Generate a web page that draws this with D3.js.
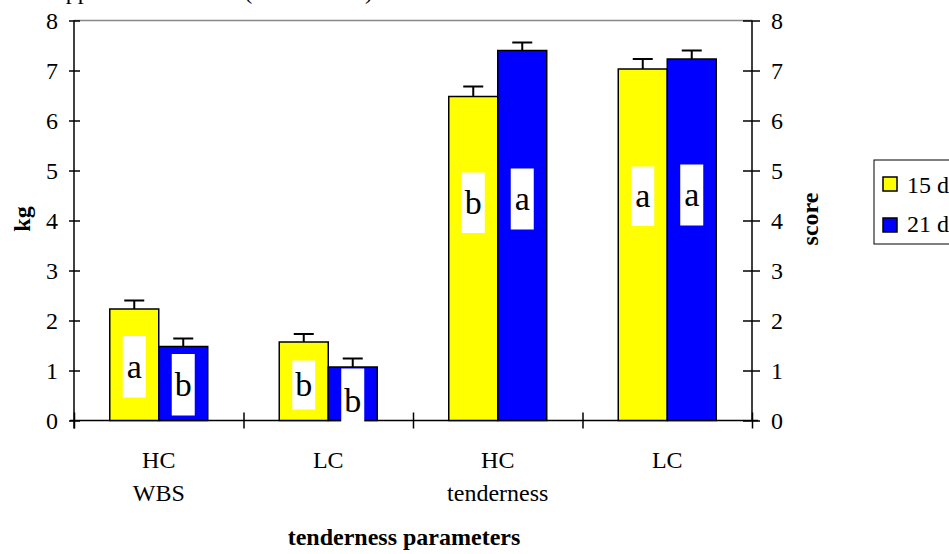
<!DOCTYPE html>
<html>
<head>
<meta charset="utf-8">
<script src="https://cdn.jsdelivr.net/npm/d3@7"></script>
<style>
  body { margin: 0; background: #fff; }
  svg { display: block; font-family: "Liberation Serif", "Times New Roman", serif; }
</style>
</head>
<body>
<svg></svg>
<script>
// data
const catTop = ["HC", "LC", "HC", "LC"];
const catBottom = ["WBS", "", "tenderness", ""];
const series = ["15 d", "21 d"];
const colors = ["#ffff00", "#0000ff"];
const values15 = [2.23, 1.57, 6.48, 7.03];
const values21 = [1.48, 1.07, 7.40, 7.23];
const err15 = [0.17, 0.16, 0.20, 0.20];
const err21 = [0.16, 0.17, 0.16, 0.17];
const letters15 = ["a", "b", "b", "a"];
const letters21 = ["b", "b", "a", "a"];
// white label boxes, top / bottom in axis units
const boxTop15 = [1.69, 1.20, 4.96, 5.08];
const boxBot15 = [0.46, 0.22, 3.75, 3.89];
const boxTop21 = [1.33, 1.04, 5.04, 5.12];
const boxBot21 = [0.10, -0.24, 3.82, 3.90];
const yTicks = [0, 1, 2, 3, 4, 5, 6, 7, 8];

let w = 949, h = 554;
var svg = d3.select("svg").attr("width", w).attr("height", h);

var x = d3.scaleBand().domain(d3.range(catTop.length)).range([74, 752]).padding(0);
var xs = d3.scaleBand().domain(series).range([0, x.bandwidth()]).paddingInner(0).paddingOuter(0.73);
var y = d3.scaleLinear().domain([0, 8]).range([420.5, 20.5]);
var xEdge = d3.scaleLinear().domain([0, catTop.length]).range([74, 752]);

// rows: one per bar
var rows = [];
catTop.forEach((c, i) => {
    rows.push({i: i, s: series[0], v: values15[i], e: err15[i], l: letters15[i], bt: boxTop15[i], bb: boxBot15[i], c: colors[0]});
    rows.push({i: i, s: series[1], v: values21[i], e: err21[i], l: letters21[i], bt: boxTop21[i], bb: boxBot21[i], c: colors[1]});
});

// top frame line
svg.append("line")
    .attr("x1", 74).attr("x2", 752).attr("y1", y(8)).attr("y2", y(8))
    .attr("stroke", "#888").attr("stroke-width", 1.5);

// left axis
var gl = svg.append("g").attr("transform", "translate(74,0)")
    .call(d3.axisLeft(y).tickValues(yTicks).tickFormat(d3.format("d")).tickSize(5).tickPadding(11));
gl.selectAll(".tick line").attr("x1", -5).attr("x2", 6);
gl.select(".domain").attr("d", "M0," + (y(0) + 8) + "V" + y(8));

// right axis
var gr = svg.append("g").attr("transform", "translate(752,0)")
    .call(d3.axisRight(y).tickValues(yTicks).tickFormat(d3.format("d")).tickSize(8).tickPadding(11));
gr.selectAll(".tick line").attr("x1", -9).attr("x2", 8);
gr.select(".domain").attr("d", "M0," + y(0) + "V" + y(8));

[gl, gr].forEach(g => {
    g.selectAll("text").attr("font-size", 24).attr("font-family", "Liberation Serif, serif").attr("fill", "#000");
    g.selectAll("line, path").attr("stroke", "#000").attr("stroke-width", 1.5);
});

// x axis with category boundary ticks
var gx = svg.append("g").attr("transform", "translate(0," + y(0) + ")")
    .call(d3.axisBottom(xEdge).tickValues(d3.range(catTop.length + 1)).tickFormat("").tickSize(8));
gx.selectAll(".tick line").attr("y1", -8).attr("y2", 8);
gx.select(".domain").attr("d", "M70,0H758");
gx.selectAll("line, path").attr("stroke", "#000").attr("stroke-width", 1.5);

// bars
svg.append("g").selectAll("rect")
    .data(rows).enter().append("rect")
    .attr("x", d => x(d.i) + xs(d.s))
    .attr("y", d => y(d.v))
    .attr("width", xs.bandwidth())
    .attr("height", d => y(0) - y(d.v))
    .attr("fill", d => d.c)
    .attr("stroke", "#000").attr("stroke-width", 1.5);

// error bars (upper only)
var eb = svg.append("g").attr("stroke", "#000").attr("stroke-width", 2);
rows.forEach(d => {
    var cx = x(d.i) + xs(d.s) + xs.bandwidth() / 2;
    eb.append("line").attr("x1", cx).attr("x2", cx).attr("y1", y(d.v)).attr("y2", y(d.v + d.e));
    eb.append("line").attr("x1", cx - 10).attr("x2", cx + 10).attr("y1", y(d.v + d.e)).attr("y2", y(d.v + d.e));
});

// significance letters in white boxes
var lb = svg.append("g");
rows.forEach(d => {
    var cx = x(d.i) + xs(d.s) + xs.bandwidth() / 2;
    lb.append("rect")
        .attr("x", cx - 11.5).attr("width", 23)
        .attr("y", y(d.bt)).attr("height", y(d.bb) - y(d.bt))
        .attr("fill", "#fff");
    lb.append("text")
        .attr("x", cx).attr("y", (y(d.bt) + y(d.bb)) / 2 + 11)
        .attr("text-anchor", "middle").attr("font-size", 34)
        .text(d.l);
});

// category labels
var cl = svg.append("g").attr("font-size", 24).attr("text-anchor", "middle");
catTop.forEach((c, i) => {
    var cx = x(i) + x.bandwidth() / 2;
    cl.append("text").attr("x", cx).attr("y", 468).text(c);
    if (catBottom[i]) cl.append("text").attr("x", cx).attr("y", 501).text(catBottom[i]);
});

// axis titles
svg.append("text").attr("x", 404).attr("y", 545)
    .attr("text-anchor", "middle").attr("font-size", 24).attr("font-weight", "bold")
    .text("tenderness parameters");
svg.append("text").attr("transform", "translate(30,219) rotate(-90)")
    .attr("text-anchor", "middle").attr("font-size", 24).attr("font-weight", "bold")
    .text("kg");
svg.append("text").attr("transform", "translate(818,219) rotate(-90)")
    .attr("text-anchor", "middle").attr("font-size", 24).attr("font-weight", "bold")
    .text("score");

// chart title, clipped at the top edge as in the source image
svg.append("text").attr("x", 55).attr("y", -1).attr("font-size", 24)
    .text("appraisal of beef at (15 and 21 d)");

// legend
var lg = svg.append("g");
lg.append("rect").attr("x", 874).attr("y", 160).attr("width", 90).attr("height", 84)
    .attr("fill", "#fff").attr("stroke", "#000").attr("stroke-width", 1);
series.forEach((s, i) => {
    lg.append("rect").attr("x", 883).attr("y", 177 + i * 41).attr("width", 14).attr("height", 14)
        .attr("fill", colors[i]).attr("stroke", "#000").attr("stroke-width", 1.5);
    lg.append("text").attr("x", 907).attr("y", 193 + i * 39).attr("font-size", 24).text(s);
});
</script>
</body>
</html>
